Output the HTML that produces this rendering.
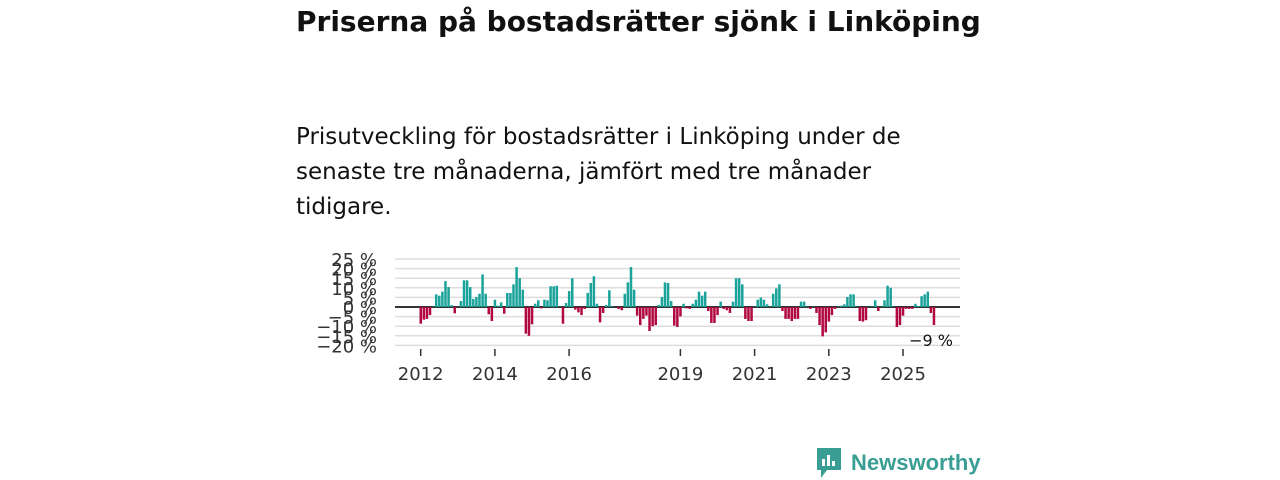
<!DOCTYPE html>
<html><head><meta charset="utf-8"><style>
body{margin:0;width:1280px;height:480px;background:#fff;font-family:"DejaVu Sans","Liberation Sans",sans-serif;position:relative;overflow:hidden}
.t{position:absolute;left:296px;top:5px;font-size:28px;font-weight:bold;color:#111;margin:0;white-space:nowrap}
.s{position:absolute;left:296px;top:120px;width:650px;font-size:23px;line-height:35px;color:#111;margin:0}
svg{position:absolute;left:0;top:0}
.logo{position:absolute;left:815px;top:446px;display:flex;align-items:center;color:#3a9e94;font-size:22px;font-weight:bold;font-family:"Liberation Sans",sans-serif}
</style></head><body>
<h1 class="t">Priserna på bostadsrätter sjönk i Linköping</h1>
<p class="s">Prisutveckling för bostadsrätter i Linköping under de senaste tre månaderna, jämfört med tre månader tidigare.</p>
<svg id="c" width="1280" height="480"></svg>
<div class="logo">
<svg width="28" height="34" viewBox="0 0 28 34" style="position:static;margin-right:8px"><path d="M2 2h24v22H12l-6 8v-8H2z" fill="#3a9e94"/><rect x="7" y="13" width="3" height="7" fill="#fff"/><rect x="12" y="9" width="3" height="11" fill="#fff"/><rect x="17" y="15" width="3" height="5" fill="#fff"/></svg>Newsworthy</div>
<script>
const values=[-8.7,-6.6,-6.2,-4.2,0.2,6.6,5.9,8,13.5,10.4,1,-3.3,
0,3.1,13.9,13.9,10.4,4.2,5.2,6.9,17,6.9,-3.8,-7.3,
3.8,0.7,2.4,-3.5,7.3,7.3,11.8,20.8,15,9,-13.9,-15,
-9,1.7,3.5,-0.7,3.8,3.5,10.8,10.8,11.1,0.2,-8.7,2.1,
8.3,15,-1.4,-2.8,-4.2,-1,7.3,12.5,16,1.7,-8,-3.1,
1,8.7,0.3,0,-1,-1.7,6.9,12.8,20.8,9,-4.5,-9.4,
-6.2,-4.5,-12.5,-10,-9.4,1,5.2,12.8,12.5,3.1,-9.7,-10.4,
-4.9,1.7,-0.7,-1,1.7,3.8,8,5.9,8,-2.1,-8.3,-8.3,
-4.2,2.8,-1,-1.7,-3.1,2.8,15,15,11.8,-6.2,-7.3,-7.3,
0.2,3.8,4.9,3.8,1.4,0.2,6.9,9.7,11.8,-2.1,-6.2,-6.2,
-7.3,-6.2,-6.2,2.8,2.8,0.2,-1,0.2,-3.1,-9.4,-15.3,-13.2,
-7.6,-4.2,-1,0.2,0.7,1.4,5.2,6.6,6.6,0.2,-7.3,-7.6,
-6.9,0.2,0.3,3.5,-2.1,0.2,3.5,11.1,10,0.2,-10.4,-9.4,
-4.5,-1,-1,-1,1.7,0.5,5.6,6.6,8,-3.1,-9.4];
const yTicks=[25,20,15,10,5,0,-5,-10,-15,-20];
const yTickLabels=["25 %","20 %","15 %","10 %","5 %","0 %","−5 %","−10 %","−15 %","−20 %"];
const xTickYears=[2012,2014,2016,2019,2021,2023,2025];
const startYear=2012;
const lastLabel="−9 %";
const NS="http://www.w3.org/2000/svg";
const svg=document.getElementById('c');
const y=v=>307-v*1.92;
const x=i=>420.7+i*(37.1/12);
function el(t,a,txt){const e=document.createElementNS(NS,t);for(const k in a)e.setAttribute(k,a[k]);if(txt!=null)e.textContent=txt;svg.appendChild(e);return e;}
yTicks.forEach((v,k)=>{
 const g=el('line',{x1:395,x2:960,y1:y(v),y2:y(v),stroke:v===0?'#333':'#ddd','stroke-width':v===0?2:1.5});
 
 
 const t=el('text',{x:377,y:y(v)+7,'text-anchor':'end','font-size':18,fill:'#333'},yTickLabels[k]);
 
 
});
values.forEach((v,i)=>{
 const r=el('rect',{x:x(i)-1.2,y:Math.min(y(v),y(0)),width:2.5,height:Math.abs(y(v)-y(0)),fill:v>=0?'#1aa39a':'#b0083f'});
 
 
});
xTickYears.forEach(yr=>{
 const xx=x((yr-startYear)*12);
 const l=el('line',{x1:xx,x2:xx,y1:349,y2:356,stroke:'#333','stroke-width':1.5});
 
 
 const t=el('text',{x:xx,y:380,'text-anchor':'middle','font-size':18,fill:'#333'},String(yr));
 
 
});
const lv=el('text',{x:953,y:346,'text-anchor':'end','font-size':16,fill:'#111'},lastLabel);


</script>
</body></html>
